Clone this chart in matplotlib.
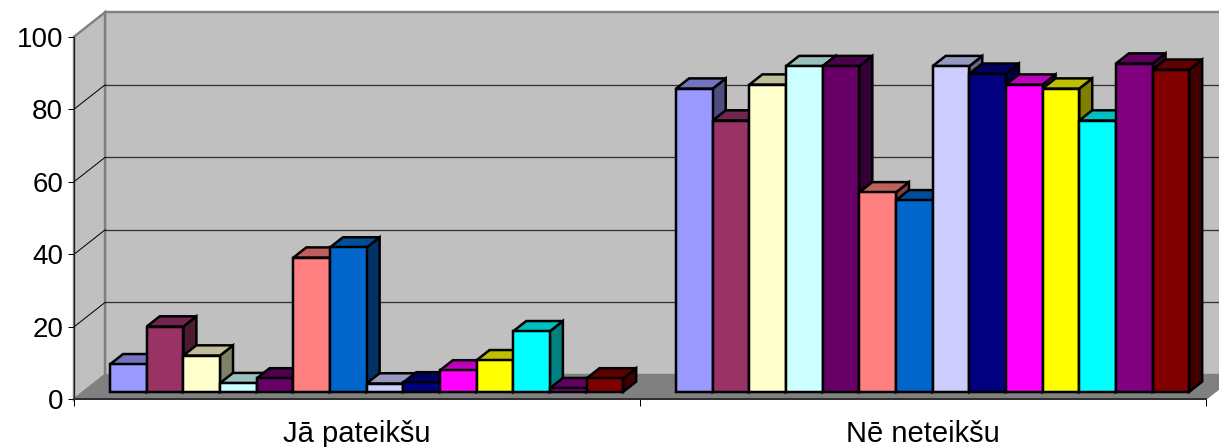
import matplotlib
matplotlib.use("Agg")
import matplotlib.pyplot as plt
from matplotlib.patches import Polygon
from matplotlib.colors import to_rgb

plt.rcParams["font.family"] = ["Liberation Sans", "DejaVu Sans"]

categories = ["Jā pateikšu", "Nē neteikšu"]
yes_values = [7.6, 18, 10, 2.4, 3.7, 37, 39.8, 2.3, 2.6, 5.9, 8.7, 16.7, 1, 3.7]
no_values = [83.6, 74.8, 84.7, 89.8, 89.8, 55, 52.8, 89.8, 87.7, 84.7, 83.6, 74.8, 90.5, 88.8]
series_colors = ["#9999FF", "#993366", "#FFFFCC", "#CCFFFF", "#660066", "#FF8080", "#0066CC",
                 "#CCCCFF", "#000080", "#FF00FF", "#FFFF00", "#00FFFF", "#800080", "#800000"]
y_ticks = [0, 20, 40, 60, 80, 100]

# fake 3d: full chart depth expressed in data units
DEPTH_X = 31 / 566
DEPTH_Y = 24.4 / 3.63
BAR_WIDTH = 36.65 / 566
BAR_FRONT = 0.31
BAR_BACK = 0.73
PX = 0.72  # one pixel in points at dpi 100


def shade(color, factor):
    return tuple(c * factor for c in to_rgb(color))


def project(x, y, d):
    return (x + d * DEPTH_X, y + d * DEPTH_Y)


fig = plt.figure(figsize=(12.19, 4.47), dpi=100)
ax = fig.add_axes([74 / 1219, 47.6 / 447, 1132 / 1219, 362.7 / 447])
ax.set_xlim(0, 2)
ax.set_ylim(0, 100)
ax.patch.set_visible(False)


def face(points, color, edge, lw, z):
    ax.add_patch(Polygon(points, closed=True, facecolor=color, edgecolor=edge, linewidth=lw,
                         joinstyle="miter", clip_on=False, zorder=z))


# walls and floor
face([project(0, 0, 1), project(2, 0, 1), project(2, 100, 1), project(0, 100, 1)],
     "#C0C0C0", "#808080", 2.4 * PX, 1)
face([project(0, 0, 0), project(0, 0, 1), project(0, 100, 1), project(0, 100, 0)],
     "#C0C0C0", "#808080", 2.4 * PX, 1)
face([project(0, 0, 0), project(2, 0, 0), project(2, 0, 1), project(0, 0, 1)],
     "#808080", "#808080", PX, 1.5)

for tick in y_ticks[1:-1]:
    back_left = project(0, tick, 1)
    back_right = project(2, tick, 1)
    front_left = project(0, tick, 0)
    ax.plot([back_left[0], back_right[0]], [back_left[1], back_right[1]], color="#303030",
            lw=1.3 * PX, clip_on=False, zorder=2)
    ax.plot([front_left[0], back_left[0]], [front_left[1], back_left[1]], color="black",
            lw=PX, clip_on=False, zorder=2)

# bars, left to right so the later ones cover the side of the earlier ones
z = 3
for cat, values in enumerate([yes_values, no_values]):
    start = cat + 0.5 - BAR_WIDTH * len(values) / 2
    for i, value in enumerate(values):
        left = start + i * BAR_WIDTH
        right = left + BAR_WIDTH
        color = series_colors[i]
        face([project(right, 0, BAR_FRONT), project(right, 0, BAR_BACK),
              project(right, value, BAR_BACK), project(right, value, BAR_FRONT)],
             shade(color, 0.5), "black", 2.5 * PX, z)
        face([project(left, value, BAR_FRONT), project(right, value, BAR_FRONT),
              project(right, value, BAR_BACK), project(left, value, BAR_BACK)],
             shade(color, 0.75), "black", 2.5 * PX, z)
        face([project(left, 0, BAR_FRONT), project(right, 0, BAR_FRONT),
              project(right, value, BAR_FRONT), project(left, value, BAR_FRONT)],
             color, "black", 2.5 * PX, z)
        z += 1

for side in ["top", "right"]:
    ax.spines[side].set_visible(False)
ax.spines["left"].set_linewidth(1.2 * PX)
ax.spines["left"].set_color("#202020")
ax.spines["bottom"].set_linewidth(2 * PX)
ax.spines["bottom"].set_color("#303030")

ax.set_yticks(y_ticks)
ax.tick_params(axis="y", labelsize=20, length=4.3, width=PX, pad=3.6)
ax.set_xticks([0, 1, 2])
ax.set_xticklabels([])
ax.tick_params(axis="x", which="major", length=5, width=PX)
ax.set_xticks([0.5, 1.5], minor=True)
ax.set_xticklabels(categories, minor=True, fontsize=21)
ax.tick_params(axis="x", which="minor", length=0, pad=15)

fig.savefig("out.png", dpi=100)
